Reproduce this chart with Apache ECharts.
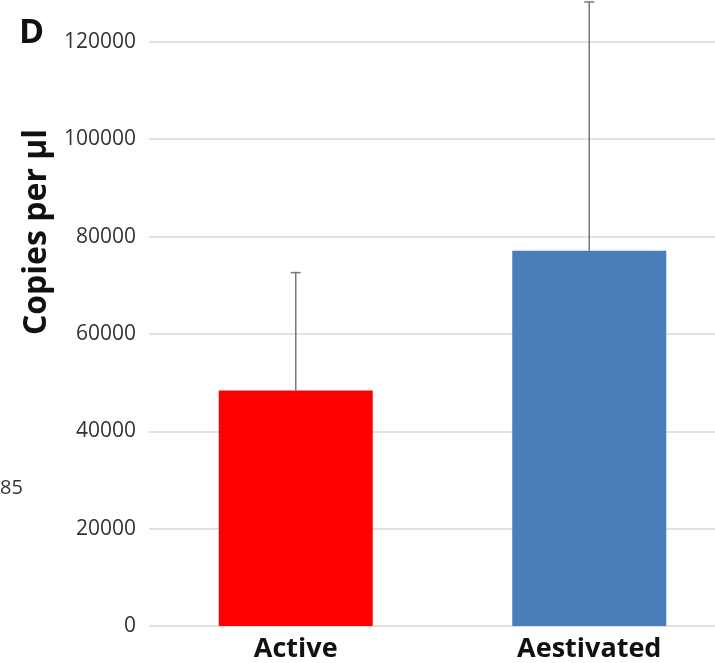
<!DOCTYPE html>
<html>
<head>
<meta charset="utf-8">
<script src="https://cdn.jsdelivr.net/npm/echarts@6/dist/echarts.min.js"></script>
<style>
  html, body { margin: 0; padding: 0; background: #fff; }
  #chart { width: 715px; height: 663px; }
</style>
</head>
<body>
<div id="chart"></div>
<script>
var categories = ['Active', 'Aestivated'];
var means = [48400, 77100];
var upper = [72600, 128200];
var barColors = ['#ff0000', '#4a7ebb'];
var yTicks = [0, 20000, 40000, 60000, 80000, 100000, 120000, 140000];

(function () {
    "use strict";
    var chart = echarts.init(document.getElementById('chart'));

    // error bar: vertical line from bar top to upper value, with a small cap
    function renderError(params, api) {
        var i = api.value(0);
        var p0 = api.coord([i, api.value(1)]);
        var p1 = api.coord([i, api.value(2)]);
        var half = 5;
        var style = { stroke: '#777', lineWidth: 1.5 };
        return {
            type: 'group',
            children: [
                { type: 'line', shape: { x1: p0[0], y1: p0[1], x2: p1[0], y2: p1[1] }, style: style },
                { type: 'line', shape: { x1: p1[0] - half, y1: p1[1], x2: p1[0] + half, y2: p1[1] }, style: style }
            ]
        };
    }

    var errData = categories.map(function (c, i) {
        return [i, means[i], upper[i]];
    });

    var option = {
        animation: false,
        backgroundColor: '#fff',
        // grid runs past the top/right edge, like the cropped figure
        grid: { left: 149, width: 587, top: -55.5, bottom: 37, outerBoundsMode: 'none' },
        xAxis: {
            type: 'category',
            data: categories,
            axisLine: { show: false },
            axisTick: { show: false },
            axisLabel: {
                color: '#111',
                fontFamily: 'Open Sans',
                fontWeight: 'bold',
                fontSize: 27,
                margin: 10
            }
        },
        yAxis: {
            type: 'value',
            min: yTicks[0],
            max: yTicks[yTicks.length - 1],
            interval: 20000,
            axisLine: { show: false },
            axisTick: { show: false },
            axisLabel: {
                color: '#333',
                fontFamily: 'Open Sans',
                fontSize: 21,
                margin: 13,
                formatter: function (v) { return String(v); }
            },
            splitLine: { lineStyle: { color: '#e2e2e2', width: 2 } }
        },
        graphic: [
            { type: 'text', left: 19, top: 16,
              style: { text: 'D', fontFamily: 'Open Sans', fontWeight: 'bold', fontSize: 34, fill: '#111' } },
            { type: 'text', left: 0, top: 478,
              style: { text: '85', fontFamily: 'Open Sans', fontSize: 20, fill: '#333' } },
            { type: 'text', x: 37, y: 232, rotation: Math.PI / 2,
              style: { text: 'Copies per µl', fontFamily: 'Open Sans', fontWeight: 'bold', fontSize: 32,
                       fill: '#111', align: 'center', verticalAlign: 'middle' } }
        ],
        series: [
            {
                type: 'bar',
                barWidth: 154,
                data: means.map(function (v, i) {
                    return { value: v, itemStyle: { color: barColors[i] } };
                })
            },
            {
                type: 'custom',
                renderItem: renderError,
                encode: { x: 0, y: [1, 2] },
                data: errData,
                z: 10
            }
        ]
    };

    chart.setOption(option);
})();
</script>
</body>
</html>
